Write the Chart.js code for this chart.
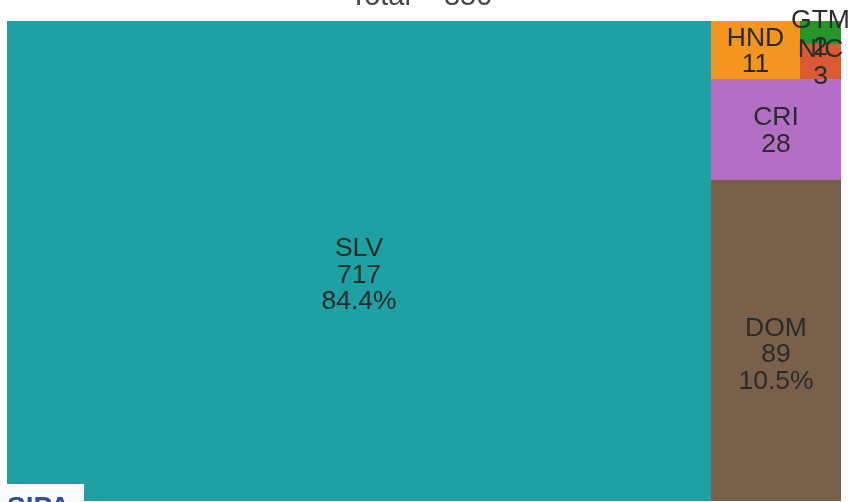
<!DOCTYPE html>
<html>
<head>
<meta charset="utf-8">
<script src="https://cdn.jsdelivr.net/npm/chart.js@4/dist/chart.umd.min.js"></script>
<style>
html,body{margin:0;padding:0;background:#fff;}
#wrap{width:852px;height:502px;position:relative;}
</style>
</head>
<body>
<div id="wrap"><canvas id="c" width="852" height="502"></canvas></div>
<script>
const categories = ['SLV', 'DOM', 'CRI', 'HND', 'NIC', 'GTM'];
const counts = [717, 89, 28, 11, 3, 2];
const titleText = 'Total = 850';
const palette = ['#1fa0a2', '#79604a', '#b36fc5', '#f4951f', '#da5a34', '#26952a'];

function worst(row, side) {
  const s = row.reduce((a, b) => a + b, 0);
  const mx = Math.max(...row), mn = Math.min(...row);
  return Math.max(side * side * mx / (s * s), (s * s) / (side * side * mn));
}

function squarify(vals, W, H) {
  const total = vals.reduce((a, b) => a + b, 0);
  const areas = vals.map(v => v * W * H / total);
  const rects = [];
  let x = 0, y = 0, w = W, h = H, i = 0;
  while (i < areas.length) {
    const side = Math.min(w, h);
    let row = [areas[i]];
    let j = i + 1;
    while (j < areas.length && worst(row.concat([areas[j]]), side) <= worst(row, side)) {
      row.push(areas[j]); j++;
    }
    const s = row.reduce((a, b) => a + b, 0);
    if (w >= h) {
      const cw = s / h;
      let yy = y + h;
      row.forEach((a, k) => {
        const rh = a / cw;
        rects[i + k] = { x0: x, x1: x + cw, y0: yy - rh, y1: yy };
        yy -= rh;
      });
      x += cw; w -= cw;
    } else {
      const rh = s / w;
      let xx = x;
      row.forEach((a, k) => {
        const rw = a / rh;
        rects[i + k] = { x0: xx, x1: xx + rw, y0: y, y1: y + rh };
        xx += rw;
      });
      y += rh; h -= rh;
    }
    i = j;
  }
  return rects;
}

const treemapPlugin = {
  id: 'treemapCells',
  beforeDatasetsDraw(chart) {
    const ctx = chart.ctx;
    const xs = chart.scales.x, ys = chart.scales.y;
    const ca = chart.chartArea;
    const A = (ca.right - ca.left) / (ca.bottom - ca.top);
    const rects = squarify(counts, A, 1);
    const total = counts.reduce((a, b) => a + b, 0);
    const px = rects.map(r => ({
      l: Math.round(xs.getPixelForValue(r.x0 / A)), r: Math.round(xs.getPixelForValue(r.x1 / A)),
      t: Math.round(ys.getPixelForValue(r.y1)), b: Math.round(ys.getPixelForValue(r.y0))
    }));
    ctx.save();
    px.forEach((p, i) => {
      ctx.fillStyle = palette[i];
      ctx.fillRect(p.l, p.t, p.r - p.l, p.b - p.t);
    });
    ctx.font = '26.5px "Liberation Sans", Arial, sans-serif';
    ctx.fillStyle = '#2b2b2b';
    ctx.textAlign = 'center';
    ctx.textBaseline = 'middle';
    px.forEach((p, i) => {
      const share = counts[i] / total;
      const lines = [categories[i], String(counts[i])];
      if (share >= 0.05) lines.push((share * 100).toFixed(1) + '%');
      const lh = 26.5;
      const cx = (p.l + p.r) / 2;
      const cy = (p.t + p.b) / 2 + (lines.length - 2) * 13 + 0.5;
      const start = cy - (lines.length - 1) * lh / 2;
      lines.forEach((ln, k) => ctx.fillText(ln, cx, start + k * lh + 1));
    });
    // title
    ctx.font = '29px "Liberation Sans", Arial, sans-serif';
    ctx.fillStyle = '#444';
    ctx.textBaseline = 'alphabetic';
    ctx.fillText(titleText, 421, 5);
    // logo badge
    ctx.fillStyle = '#fafafa';
    ctx.fillRect(0, 484, 84, 18);
    ctx.fillStyle = '#2c4f9e';
    ctx.textAlign = 'left';
    ctx.font = 'bold 28px "Liberation Sans", Arial, sans-serif';
    ctx.textBaseline = 'alphabetic';
    ctx.fillText('SIPA', 7, 496 + 20);
    ctx.restore();
  }
};

new Chart(document.getElementById('c'), {
  type: 'scatter',
  data: { datasets: [{ data: [], pointRadius: 0 }] },
  options: {
    responsive: false,
    animation: false,
    events: [],
    layout: { padding: { left: 7, right: 11, top: 21, bottom: 1 } },
    plugins: { legend: { display: false }, tooltip: { enabled: false }, title: { display: false } },
    scales: {
      x: { type: 'linear', min: 0, max: 1, display: false },
      y: { type: 'linear', min: 0, max: 1, display: false }
    }
  },
  plugins: [treemapPlugin]
});
</script>
</body>
</html>
